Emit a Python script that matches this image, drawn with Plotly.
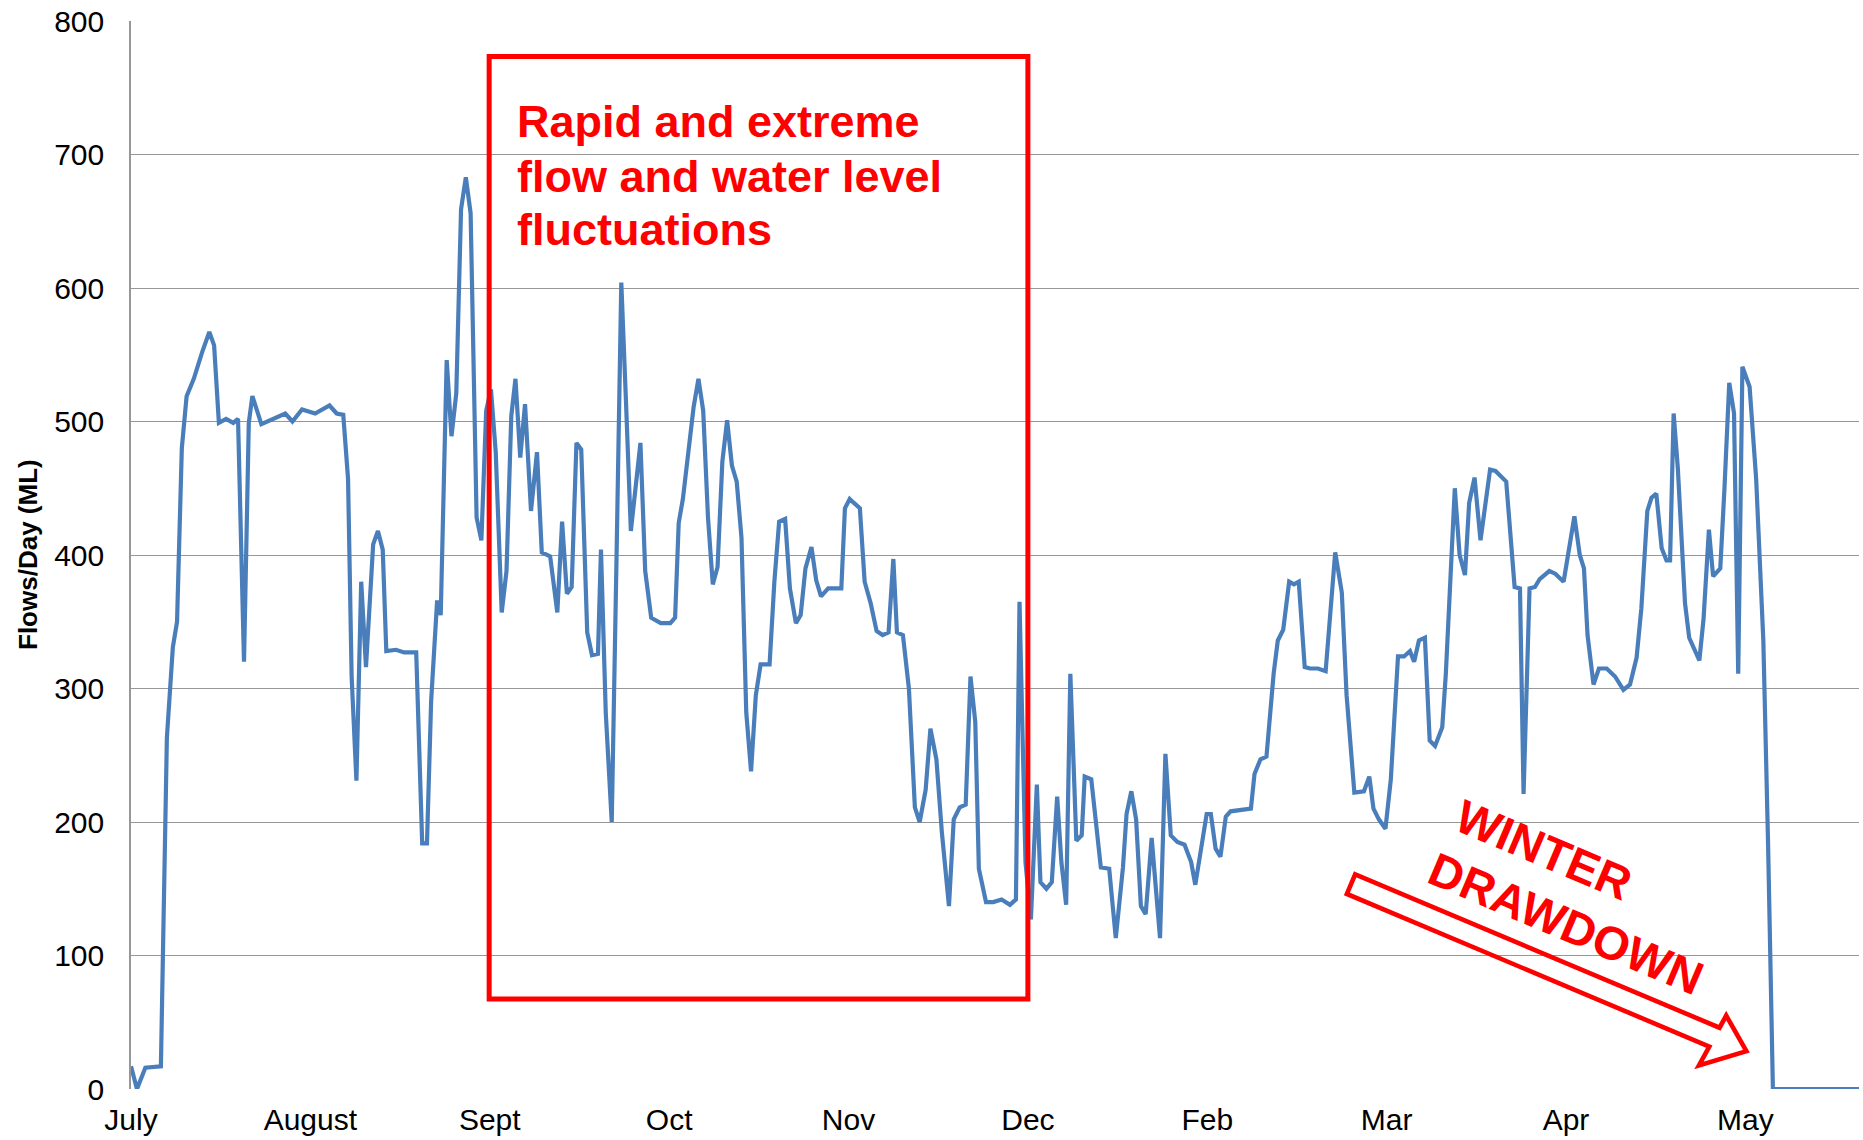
import plotly.graph_objects as go

# ---- data ----
day_index = [
    0.0, 1.0, 2.4, 5.0, 6.0, 7.0, 7.7, 8.5, 9.3, 10.5, 11.9, 13.1, 13.9, 14.7, 15.9, 17.1, 17.9, 18.9, 19.7, 20.3,
    21.8, 23.8, 25.8, 27.0, 28.6, 30.8, 33.2, 34.4, 35.5, 36.3, 36.9, 37.7, 38.5, 39.3, 40.5, 41.3, 42.1, 42.7,
    44.3, 45.7, 47.7, 48.7, 49.5, 50.2, 51.2, 51.8, 52.8, 53.6, 54.4, 55.2, 56.0, 56.8, 57.8, 58.6, 59.4, 60.2,
    61.0, 62.0, 62.8, 63.6, 64.3, 65.1, 65.9, 66.9, 67.9, 68.7, 70.1, 71.3, 72.1, 72.9, 73.7, 74.5, 75.3, 76.3,
    77.1, 78.1, 78.6, 79.4, 80.4, 81.2, 82.0, 82.8, 83.6, 84.4, 85.2, 86.0, 87.0, 88.6, 90.2, 91.0, 91.6, 92.3,
    93.3, 94.1, 94.9, 95.7, 96.5, 97.3, 98.1, 98.9, 99.7, 100.5, 101.3, 102.1, 102.9, 103.7, 104.5, 105.3, 106.8,
    107.6, 108.4, 109.4, 110.2, 111.2, 112.0, 112.8, 113.8, 114.6, 115.4, 116.6, 117.8, 118.8, 119.4, 120.2,
    120.9, 121.9, 122.7, 123.7, 124.7, 125.7, 126.7, 127.5, 128.1, 129.1, 130.1, 131.1, 131.9, 132.9, 133.7,
    134.7, 135.6, 136.8, 137.6, 138.6, 139.6, 140.4, 141.2, 141.8, 143.0, 144.2, 145.6, 147.0, 148.0, 148.6,
    149.6, 150.5, 151.5, 152.1, 153.1, 154.0, 154.9, 155.6, 156.4, 157.1, 158.1, 159.0, 159.5, 160.6, 162.2,
    163.6, 164.7, 165.9, 166.5, 167.3, 168.1, 168.9, 169.7, 170.7, 172.1, 173.0, 173.9, 175.0, 176.2, 177.3,
    178.0, 179.0, 179.9, 180.6, 181.4, 182.2, 183.1, 183.9, 186.3, 187.3, 187.9, 188.9, 189.9, 191.1, 191.8,
    192.7, 193.7, 194.5, 195.3, 196.3, 197.2, 198.5, 199.8, 201.4, 202.5, 203.3, 204.6, 206.2, 207.1, 207.8,
    208.7, 209.8, 210.7, 211.9, 212.9, 213.9, 214.6, 215.4, 216.4, 217.2, 218.1, 219.3, 219.9, 221.4, 222.2,
    223.1, 223.8, 224.7, 225.7, 227.3, 228.2, 230.0, 231.4, 232.3, 232.9, 233.9, 234.8, 235.6, 237.2, 238.2,
    239.6, 241.4, 242.3, 243.0, 243.6, 244.6, 245.5, 246.8, 248.2, 249.6, 250.7, 251.8, 252.6, 253.6, 254.3,
    255.1, 256.0, 256.8, 257.4, 258.0, 258.7, 259.3, 259.9, 260.6, 261.5, 262.3, 263.0, 263.9, 264.6, 265.8,
    266.5, 267.3, 268.1, 268.8, 269.5, 270.2, 270.7, 271.8, 273.0, 273.8, 274.6, 289.4,
]
flow_ml = [
    17, 0, 16, 17, 263, 331, 350, 480, 519, 532, 552, 567, 557, 499, 502, 499, 502, 320, 499, 519,
    498, 502, 506, 500, 509, 506, 512, 506, 505, 457, 309, 231, 380, 316, 408, 418, 404, 328,
    329, 327, 327, 184, 184, 291, 366, 355, 546, 489, 521, 659, 683, 656, 428, 411, 508, 524,
    477, 357, 388, 504, 532, 473, 513, 433, 477, 402, 399, 357, 425, 371, 376, 484, 479, 342,
    325, 326, 404, 282, 200, 397, 604, 513, 418, 451, 484, 388, 353, 349, 349, 353, 424, 442,
    477, 511, 532, 508, 428, 378, 391, 470, 501, 467, 455, 413, 282, 238, 295, 318, 318,
    380, 425, 427, 375, 349, 355, 390, 406, 381, 369, 375, 375, 375, 435, 442,
    439, 435, 380, 364, 343, 340, 342, 397, 342, 340, 300, 211, 200, 224, 270,
    247, 193, 137, 202, 211, 213, 309, 275, 165, 140, 140, 142, 138, 142, 365,
    170, 127, 228, 155, 150, 155, 219, 170, 138, 311, 186, 190, 234, 232, 166,
    165, 113, 166, 206, 223, 202, 137, 131, 188, 113, 251, 190, 185, 183, 170,
    153, 182, 206, 206, 180, 174, 204, 208, 209, 210, 236, 247, 249, 311, 336,
    344, 380, 378, 380, 316, 315, 315, 313, 402, 372, 295, 222, 223, 234, 210,
    202, 195, 232, 324, 324, 328, 320, 336, 338, 261, 257, 271, 311, 450, 400,
    385, 439, 458, 411, 464, 463, 455, 376, 375, 221, 375, 376, 382, 388, 386,
    380, 429, 400, 390, 340, 303, 315, 315, 309, 299, 303, 323, 360, 433, 443,
    446, 405, 396, 396, 506, 465, 417, 364, 338, 328, 321, 352, 419, 384, 390,
    450, 529, 506, 311, 541, 532, 526, 457, 336, 182, 0, 0,
]
month_ticks = [0, 30, 60, 90, 120, 150, 180, 210, 240, 270]
month_labels = ["July", "August", "Sept", "Oct", "Nov", "Dec", "Feb", "Mar", "Apr", "May"]
y_ticks = [0, 100, 200, 300, 400, 500, 600, 700, 800]

FONT = "Arial, Liberation Sans, sans-serif"
RED = "#ff0000"
GRID = "#979797"

fig = go.Figure()
fig.add_trace(go.Scatter(
    x=day_index, y=flow_ml, mode="lines",
    line=dict(color="#4a7ebb", width=4.2),
    hoverinfo="skip", showlegend=False,
))

# red highlight box
fig.add_shape(type="rect", xref="x", yref="y", x0=59.9, x1=150.0, y0=67.4, y1=773.4,
              line=dict(color=RED, width=5), fillcolor="rgba(0,0,0,0)")

# hollow arrow
fig.add_shape(type="path", xref="x", yref="y",
              path="M 204.74,160.8 L 265.68,45.9 L 266.79,55.0 L 270.17,28.4 L 262.23,17.7 "
                   "L 263.96,31.8 L 203.35,146.1 Z",
              line=dict(color=RED, width=4.6), fillcolor="rgba(255,255,255,0)")

for txt, yv in [("Rapid and extreme", 724.6), ("flow and water level", 683.8), ("fluctuations", 643.9)]:
    fig.add_annotation(x=64.25, y=yv, xref="x", yref="y", text="<b>%s</b>" % txt,
                       showarrow=False, xanchor="left", yanchor="middle",
                       font=dict(family=FONT, size=45, color=RED))

fig.add_annotation(x=236.2, y=179.2, xref="x", yref="y", text="<b>WINTER</b>", showarrow=False,
                   textangle=23, xanchor="center", yanchor="middle",
                   font=dict(family=FONT, size=47, color=RED))
fig.add_annotation(x=240.0, y=124.2, xref="x", yref="y", text="<b>DRAWDOWN</b>", showarrow=False,
                   textangle=23, xanchor="center", yanchor="middle",
                   font=dict(family=FONT, size=47, color=RED))

# y-axis title
fig.add_annotation(x=0, y=0.5, xref="paper", yref="paper", xshift=-103, text="<b>Flows/Day (ML)</b>",
                   showarrow=False, textangle=-90, xanchor="center", yanchor="middle",
                   font=dict(family=FONT, size=26, color="#000000"))

fig.update_layout(
    width=1863, height=1140, autosize=False,
    margin=dict(l=131, r=4, t=20, b=49, pad=0),
    paper_bgcolor="white", plot_bgcolor="white",
    font=dict(family=FONT, color="#000000"),
    xaxis=dict(range=[0, 289], tickmode="array", tickvals=month_ticks, ticktext=month_labels,
               showgrid=False, zeroline=False, showline=False, ticks="",
               tickfont=dict(size=30, color="#000000"), ticklabelstandoff=10, fixedrange=True),
    yaxis=dict(range=[0, 800], tickmode="array", tickvals=y_ticks,
               showgrid=True, gridcolor=GRID, gridwidth=1.3, zeroline=False,
               showline=True, linecolor=GRID, linewidth=1.5, ticks="",
               tickfont=dict(size=30, color="#000000"), ticklabelstandoff=19, fixedrange=True),
)

fig.write_html("out.html", config={"displayModeBar": False},
               post_script="document.body.style.margin='0';document.body.style.overflow='hidden';")
